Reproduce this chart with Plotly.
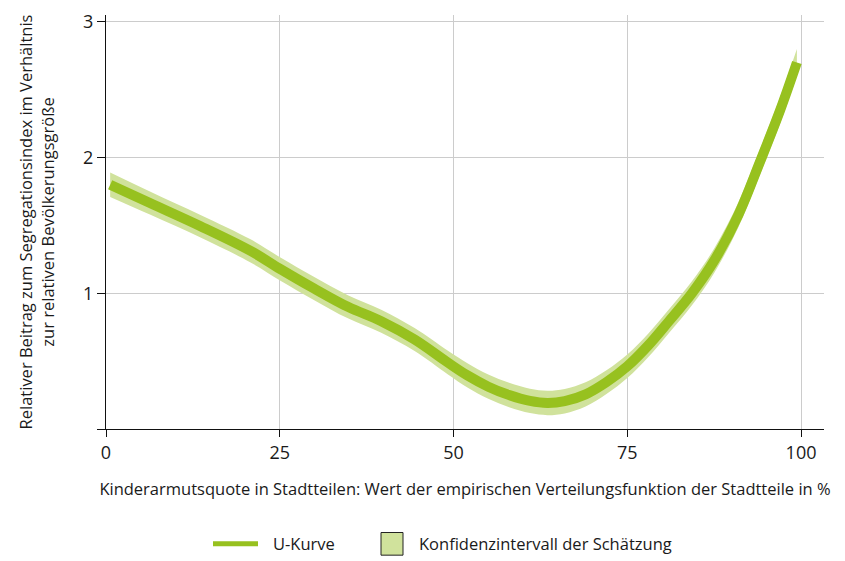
import plotly.graph_objects as go

# Kinderarmutsquote (Wert der empirischen Verteilungsfunktion, %)
quote = [0.6, 6.4, 13.6, 20.8, 25.1, 29.9, 34.8, 39.6, 44.4, 49.2, 52.0, 55.0,
         58.0, 61.0, 63.5, 66.0, 69.0, 72.0, 75.0, 78.0, 81.0, 84.3, 87.5,
         91.0, 94.1, 97.0, 99.4]

# Geschätzte U-Kurve
u_kurve = [1.800, 1.663, 1.494, 1.312, 1.178, 1.036, 0.900, 0.794, 0.659, 0.489,
           0.395, 0.312, 0.250, 0.207, 0.192, 0.205, 0.255, 0.345, 0.462, 0.615,
           0.795, 1.000, 1.240, 1.580, 1.970, 2.350, 2.700]

# Konfidenzintervall (obere und untere Grenze)
ki_oben = [1.890, 1.748, 1.577, 1.397, 1.263, 1.121, 0.985, 0.879, 0.744, 0.576,
           0.484, 0.401, 0.340, 0.297, 0.282, 0.295, 0.344, 0.433, 0.549, 0.702,
           0.882, 1.088, 1.330, 1.672, 2.064, 2.447, 2.800]
ki_unten = [1.710, 1.578, 1.411, 1.227, 1.093, 0.951, 0.815, 0.709, 0.574, 0.402,
            0.306, 0.223, 0.160, 0.117, 0.102, 0.115, 0.166, 0.257, 0.375, 0.528,
            0.708, 0.912, 1.150, 1.488, 1.876, 2.253, 2.600]

x_ticks = [0, 25, 50, 75, 100]
y_ticks = [0, 1, 2, 3]
y_ticktext = ["", "1", "2", "3"]

DARK = "#97c11f"
LIGHT = "#d0e29c"
FONT = "Open Sans"

fig = go.Figure()

fig.add_trace(go.Scatter(
    x=quote, y=ki_unten, mode="lines", line=dict(width=0, shape="spline", color=LIGHT),
    showlegend=False, hoverinfo="skip"))
fig.add_trace(go.Scatter(
    x=quote, y=ki_oben, mode="lines", line=dict(width=0, shape="spline", color=LIGHT),
    fill="tonexty", fillcolor=LIGHT, showlegend=False, hoverinfo="skip"))
fig.add_trace(go.Scatter(
    x=quote, y=u_kurve, mode="lines", line=dict(width=10, shape="spline", color=DARK),
    name="U-Kurve", showlegend=False))

# plot area in pixels: left 106, right 824, top 9, bottom 429
L, R, T, B = 106, 824, 9, 429


def px(xpix):
    return (xpix - L) / (R - L)


def py(ypix):
    return (B - ypix) / (B - T)


# legend drawn below the chart
leg_y = 545.5
fig.add_shape(type="line", xref="paper", yref="paper",
              x0=px(213), x1=px(258), y0=py(leg_y), y1=py(leg_y),
              line=dict(color=DARK, width=5))
fig.add_shape(type="rect", xref="paper", yref="paper",
              x0=px(381), x1=px(403), y0=py(557), y1=py(534),
              fillcolor=LIGHT, line=dict(color="#222222", width=1))
fig.add_annotation(xref="paper", yref="paper", x=px(271), y=py(leg_y),
                   text="U-Kurve", showarrow=False, xanchor="left", yanchor="middle",
                   font=dict(family=FONT, size=16.5, color="#1a1a1a"))
fig.add_annotation(xref="paper", yref="paper", x=px(417), y=py(leg_y),
                   text="Konfidenzintervall der Schätzung", showarrow=False,
                   xanchor="left", yanchor="middle",
                   font=dict(family=FONT, size=16.5, color="#1a1a1a"))

fig.update_layout(
    width=845, height=561,
    margin=dict(l=L, r=845 - R, t=T, b=561 - B),
    paper_bgcolor="white", plot_bgcolor="white",
    font=dict(family=FONT, size=16.5, color="#1a1a1a"),
    showlegend=False,
    xaxis=dict(
        range=[0, 103.3], tickvals=x_ticks, showgrid=True, gridcolor="#cccccc",
        gridwidth=1, zeroline=False, showline=True, linecolor="#111111", linewidth=1.3,
        ticks="outside", ticklen=7, tickcolor="#111111", tickwidth=1.3,
        tickfont=dict(family=FONT, size=18),
        title=dict(text="Kinderarmutsquote in Stadtteilen: Wert der empirischen "
                        "Verteilungsfunktion der Stadtteile in %",
                   font=dict(family=FONT, size=16.5), standoff=20),
    ),
    yaxis=dict(
        range=[0, 3.05], tickvals=y_ticks, ticktext=y_ticktext, showgrid=True,
        gridcolor="#cccccc", gridwidth=1, zeroline=False, showline=True,
        linecolor="#111111", linewidth=1.3, ticks="outside", ticklen=8,
        tickcolor="#111111", tickwidth=1.3, tickfont=dict(family=FONT, size=18),
        title=dict(text="Relativer Beitrag zum Segregationsindex im Verhältnis<br>"
                        "zur relativen Bevölkerungsgröße",
                   font=dict(family=FONT, size=16.5), standoff=24),
    ),
)

fig.write_html("out.html")
